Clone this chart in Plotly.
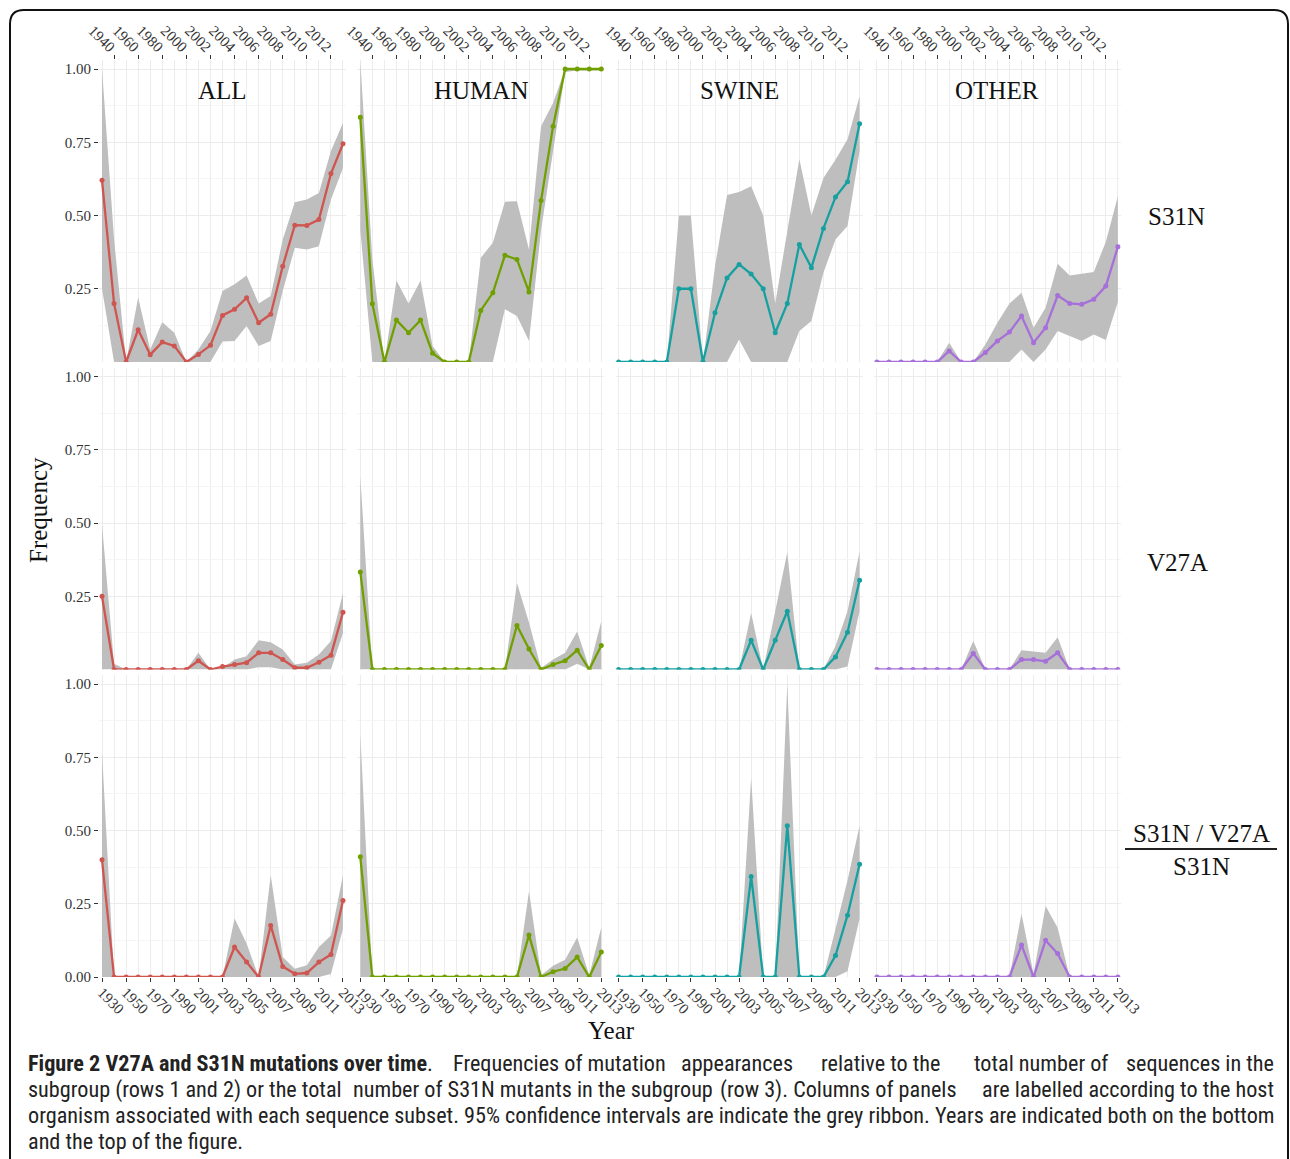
import plotly.graph_objects as go

# ---------------- data ----------------
YEARS = [1930, 1940, 1950, 1960, 1970, 1980, 1990, 2000, 2001, 2002, 2003, 2004,
         2005, 2006, 2007, 2008, 2009, 2010, 2011, 2012, 2013]
HOSTS = ["ALL", "HUMAN", "SWINE", "OTHER"]
HOST_COLORS = ["#cf5550", "#70a000", "#17a0a0", "#a66fd9"]

# Row 1: S31N frequency
S31N_ALL = [0.62, 0.20, 0, 0.11, 0.025, 0.068, 0.055, 0, 0.026, 0.057, 0.159, 0.18, 0.219, 0.134, 0.163, 0.327, 0.467, 0.466, 0.486, 0.643, 0.745]
S31N_ALL_LO = [0.25, 0, 0, 0, 0, 0, 0, 0, 0, 0, 0.07, 0.072, 0.123, 0.055, 0.072, 0.242, 0.39, 0.384, 0.395, 0.555, 0.662]
S31N_ALL_HI = [1.0, 0.42, 0.0, 0.22, 0.043, 0.136, 0.10, 0.0, 0.043, 0.106, 0.242, 0.265, 0.295, 0.2, 0.225, 0.418, 0.545, 0.555, 0.577, 0.72, 0.816]

S31N_HUMAN = [0.835, 0.199, 0, 0.143, 0.10, 0.143, 0.03, 0, 0, 0, 0.176, 0.236, 0.364, 0.35, 0.239, 0.551, 0.805, 1, 1, 1, 1]
S31N_HUMAN_LO = [0.45, 0, 0, 0, 0, 0, 0, 0, 0, 0, 0, 0, 0.18, 0.157, 0.072, 0.45, 0.72, 0.99, 0.995, 0.995, 0.995]
S31N_HUMAN_HI = [1.03, 0.35, 0, 0.278, 0.2, 0.278, 0.055, 0, 0, 0, 0.356, 0.407, 0.547, 0.549, 0.384, 0.805, 0.884, 1, 1, 1, 1]

S31N_SWINE = [0, 0, 0, 0, 0, 0.25, 0.25, 0, 0.168, 0.287, 0.333, 0.30, 0.25, 0.10, 0.20, 0.401, 0.322, 0.456, 0.563, 0.615, 0.813]
S31N_SWINE_LO = [0, 0, 0, 0, 0, 0, 0, 0, 0, 0, 0.077, 0, 0, 0, 0, 0.106, 0.14, 0.305, 0.418, 0.464, 0.72]
S31N_SWINE_HI = [0, 0, 0, 0, 0, 0.5, 0.5, 0, 0.327, 0.57, 0.58, 0.6, 0.5, 0.2, 0.45, 0.693, 0.5, 0.628, 0.69, 0.76, 0.907]

S31N_OTHER = [0, 0, 0, 0, 0, 0, 0.0375, 0, 0, 0.032, 0.072, 0.102, 0.157, 0.066, 0.117, 0.227, 0.2, 0.197, 0.214, 0.259, 0.393]
S31N_OTHER_LO = [0, 0, 0, 0, 0, 0, 0, 0, 0, 0, 0, 0, 0.043, 0, 0.043, 0.106, 0.089, 0.072, 0.094, 0.075, 0.205]
S31N_OTHER_HI = [0, 0, 0, 0, 0, 0, 0.066, 0, 0, 0.06, 0.134, 0.2, 0.236, 0.117, 0.185, 0.335, 0.295, 0.3, 0.307, 0.41, 0.566]

# Row 2: V27A frequency
V27A_ALL = [0.25, 0, 0, 0, 0, 0, 0, 0, 0.03, 0, 0.01, 0.017, 0.023, 0.057, 0.057, 0.034, 0.006, 0.006, 0.025, 0.049, 0.195]
V27A_ALL_LO = [0, 0, 0, 0, 0, 0, 0, 0, 0, 0, 0, 0, 0, 0.008, 0.008, 0, 0, 0, 0, 0, 0.125]
V27A_ALL_HI = [0.494, 0.02, 0, 0, 0, 0, 0, 0, 0.057, 0, 0.005, 0.034, 0.045, 0.1, 0.093, 0.068, 0.017, 0.023, 0.051, 0.097, 0.26]

V27A_HUMAN = [0.333, 0, 0, 0, 0, 0, 0, 0, 0, 0, 0, 0, 0, 0.15, 0.07, 0, 0.017, 0.03, 0.066, 0, 0.082]
V27A_HUMAN_LO = [0, 0, 0, 0, 0, 0, 0, 0, 0, 0, 0, 0, 0, 0, 0, 0, 0, 0, 0.02, 0, 0]
V27A_HUMAN_HI = [0.66, 0, 0, 0, 0, 0, 0, 0, 0, 0, 0, 0, 0, 0.295, 0.16, 0.005, 0.034, 0.057, 0.13, 0.005, 0.165]

V27A_SWINE = [0, 0, 0, 0, 0, 0, 0, 0, 0, 0, 0, 0.1, 0, 0.1, 0.199, 0, 0, 0, 0.043, 0.127, 0.305]
V27A_SWINE_LO = [0, 0, 0, 0, 0, 0, 0, 0, 0, 0, 0, 0, 0, 0, 0, 0, 0, 0, 0, 0.01, 0.2]
V27A_SWINE_HI = [0, 0, 0, 0, 0, 0, 0, 0, 0, 0, 0, 0.193, 0, 0.2, 0.4, 0, 0, 0, 0.08, 0.2, 0.403]

V27A_OTHER = [0, 0, 0, 0, 0, 0, 0, 0, 0.055, 0, 0, 0, 0.034, 0.034, 0.028, 0.057, 0, 0, 0, 0, 0]
V27A_OTHER_LO = [0] * 21
V27A_OTHER_HI = [0, 0, 0, 0, 0, 0, 0, 0, 0.097, 0, 0, 0, 0.066, 0.0625, 0.057, 0.11, 0, 0, 0, 0, 0]

# Row 3: (S31N / V27A) / S31N
DUAL_ALL = [0.4, 0, 0, 0, 0, 0, 0, 0, 0, 0, 0, 0.102, 0.051, 0, 0.176, 0.036, 0.011, 0.0136, 0.051, 0.077, 0.261]
DUAL_ALL_LO = [0, 0, 0, 0, 0, 0, 0, 0, 0, 0, 0, 0, 0, 0, 0, 0, 0, 0, 0, 0.01, 0.165]
DUAL_ALL_HI = [0.767, 0, 0, 0, 0, 0, 0, 0, 0, 0, 0, 0.2, 0.114, 0.0, 0.347, 0.068, 0.028, 0.04, 0.102, 0.142, 0.347]

DUAL_HUMAN = [0.41, 0, 0, 0, 0, 0, 0, 0, 0, 0, 0, 0, 0, 0, 0.143, 0, 0.018, 0.029, 0.068, 0, 0.085]
DUAL_HUMAN_LO = [0] * 21
DUAL_HUMAN_HI = [0.83, 0, 0, 0, 0, 0, 0, 0, 0, 0, 0, 0, 0, 0, 0.293, 0.006, 0.038, 0.059, 0.135, 0.006, 0.17]

DUAL_SWINE = [0, 0, 0, 0, 0, 0, 0, 0, 0, 0, 0, 0.343, 0, 0, 0.516, 0, 0, 0, 0.073, 0.211, 0.385]
DUAL_SWINE_LO = [0, 0, 0, 0, 0, 0, 0, 0, 0, 0, 0, 0, 0, 0, 0, 0, 0, 0, 0, 0.02, 0.2]
DUAL_SWINE_HI = [0, 0, 0, 0, 0, 0, 0, 0, 0, 0, 0, 0.68, 0, 0, 1.0, 0, 0, 0, 0.164, 0.33, 0.516]

DUAL_OTHER = [0, 0, 0, 0, 0, 0, 0, 0, 0, 0, 0, 0, 0.109, 0, 0.125, 0.08, 0, 0, 0, 0, 0]
DUAL_OTHER_LO = [0] * 21
DUAL_OTHER_HI = [0, 0, 0, 0, 0, 0, 0, 0, 0, 0, 0, 0, 0.216, 0.01, 0.242, 0.168, 0, 0, 0, 0, 0]

ROWS = [
    [(S31N_ALL, S31N_ALL_LO, S31N_ALL_HI), (S31N_HUMAN, S31N_HUMAN_LO, S31N_HUMAN_HI),
     (S31N_SWINE, S31N_SWINE_LO, S31N_SWINE_HI), (S31N_OTHER, S31N_OTHER_LO, S31N_OTHER_HI)],
    [(V27A_ALL, V27A_ALL_LO, V27A_ALL_HI), (V27A_HUMAN, V27A_HUMAN_LO, V27A_HUMAN_HI),
     (V27A_SWINE, V27A_SWINE_LO, V27A_SWINE_HI), (V27A_OTHER, V27A_OTHER_LO, V27A_OTHER_HI)],
    [(DUAL_ALL, DUAL_ALL_LO, DUAL_ALL_HI), (DUAL_HUMAN, DUAL_HUMAN_LO, DUAL_HUMAN_HI),
     (DUAL_SWINE, DUAL_SWINE_LO, DUAL_SWINE_HI), (DUAL_OTHER, DUAL_OTHER_LO, DUAL_OTHER_HI)],
]

CAPTION_BOLD = "Figure 2 V27A and S31N mutations over time"
CAPTION_LINES = [
    "Figure 2 V27A and S31N mutations over time. Frequencies of mutation appearances relative to the total number of sequences in the",
    "subgroup (rows 1 and 2) or the total number of S31N mutants in the subgroup (row 3). Columns of panels are labelled according to the host",
    "organism associated with each sequence subset. 95% confidence intervals are indicate the grey ribbon. Years are indicated both on the bottom",
    "and the top of the figure.",
]
CAPTION_CHUNKS = [6, 4, 1, 1]   # pieces per line used to imitate justified text

# ---------------- layout helpers ----------------
W, H = 1290, 1159
SERIF = "Liberation Serif, Times New Roman, serif"
IDX = list(range(len(YEARS)))


def px_x(p):
    return p / W


def px_y(p):
    return 1 - p / H


fig = go.Figure()
layout = dict(
    width=W, height=H, margin=dict(l=0, r=0, t=0, b=0, autoexpand=False),
    paper_bgcolor="white", plot_bgcolor="white", showlegend=False,
    font=dict(family=SERIF, color="#222"),
)

X0 = 102.0
COL_STEP = 258.3
ZERO0 = 362.0
ROW_STEP = 307.5
UNIT = 293.0
YTOP = 1.03

annotations = []
shapes = []

for r in range(3):
    for c in range(4):
        k = r * 4 + c + 1
        xa = "x" if k == 1 else f"x{k}"
        ya = "y" if k == 1 else f"y{k}"
        p0 = X0 + COL_STEP * c
        z = ZERO0 + ROW_STEP * r

        xaxis = dict(
            domain=[px_x(p0 - 3), px_x(p0 + 244)], range=[-0.25, 20.25],
            anchor=ya, zeroline=False, showline=False, automargin=False,
            showgrid=True, gridcolor="#ececec", gridwidth=1,
            minor=dict(tickmode="linear", tick0=0, dtick=1, showgrid=True,
                       gridcolor="#ececec", ticks=""),
            tickfont=dict(family=SERIF, size=15, color="#333"),
            tickangle=45, ticks="outside", ticklen=4, tickcolor="#333",
        )
        if r == 0:
            tv = [i for i in IDX if i % 2 == 1]
            xaxis.update(side="top", tickmode="array", tickvals=tv,
                         ticktext=[str(YEARS[i]) for i in tv], showticklabels=True,
                         ticklabelstandoff=-6)
        elif r == 2:
            tv = [i for i in IDX if i % 2 == 0]
            xaxis.update(side="bottom", tickmode="array", tickvals=tv,
                         ticktext=[str(YEARS[i]) for i in tv], showticklabels=True,
                         ticklabelstandoff=-4)
        else:
            xaxis.update(tickmode="array", tickvals=[i for i in IDX if i % 2 == 0],
                         showticklabels=False, ticks="")

        yt = [0.25, 0.5, 0.75, 1.0] if r < 2 else [0.0, 0.25, 0.5, 0.75, 1.0]
        yaxis = dict(
            domain=[px_y(z), px_y(z - YTOP * UNIT)], range=[0, YTOP],
            anchor=xa, zeroline=False, showline=False, automargin=False,
            showgrid=True, gridcolor="#ececec",
            minor=dict(tickmode="linear", tick0=0, dtick=0.125, showgrid=True,
                       gridcolor="#f5f5f5", ticks=""),
            tickmode="array", tickvals=yt, ticktext=[f"{v:.2f}" for v in yt],
            tickfont=dict(family=SERIF, size=15, color="#333"),
        )
        if c == 0:
            yaxis.update(showticklabels=True, ticks="outside", ticklen=4, tickcolor="#333")
        else:
            yaxis.update(showticklabels=False, ticks="")

        layout["xaxis" if k == 1 else f"xaxis{k}"] = xaxis
        layout["yaxis" if k == 1 else f"yaxis{k}"] = yaxis

        val, lo, hi = ROWS[r][c]
        fig.add_trace(go.Scatter(
            x=IDX + IDX[::-1], y=list(hi) + list(lo)[::-1],
            fill="toself", fillcolor="#bebebe", mode="lines",
            line=dict(width=0, color="#bebebe"), hoverinfo="skip",
            xaxis=xa, yaxis=ya))
        fig.add_trace(go.Scatter(
            x=IDX, y=val, mode="lines+markers",
            line=dict(color=HOST_COLORS[c], width=2.3),
            marker=dict(color=HOST_COLORS[c], size=5),
            xaxis=xa, yaxis=ya))

        if r == 0:
            annotations.append(dict(
                x=px_x(p0 + 120.5), y=px_y(90), xref="paper", yref="paper",
                text=HOSTS[c], showarrow=False, xanchor="center", yanchor="middle",
                font=dict(family=SERIF, size=25, color="#111")))


def label(x, y, text, angle=0):
    annotations.append(dict(x=px_x(x), y=px_y(y), xref="paper", yref="paper",
                            text=text, showarrow=False, textangle=angle,
                            xanchor="center", yanchor="middle",
                            font=dict(family=SERIF, size=25, color="#111")))


# row strip labels
label(1176, 217, "S31N")
label(1177, 562, "V27A")
label(1201, 833, "S31N / V27A")
label(1201, 866, "S31N")
shapes.append(dict(type="line", xref="paper", yref="paper",
                   x0=px_x(1125), x1=px_x(1277), y0=px_y(849), y1=px_y(849),
                   line=dict(color="#222", width=2)))

# axis titles
label(38, 510, "Frequency", angle=-90)
label(611, 1030, "Year")

# caption (justified lines imitated with several pieces per line)
CAP_FONT = "Roboto Condensed, Liberation Sans Narrow, sans-serif"
CAP_SIZE = 22.2
CHAR_W = 0.395 * CAP_SIZE
BOLD_W = 0.423 * CAP_SIZE
LEFT, RIGHT = 26, 1276


def fmt(chunk):
    if CAPTION_BOLD in chunk:
        return chunk.replace(CAPTION_BOLD, "<b>" + CAPTION_BOLD + "</b>")
    return chunk


def est_width(chunk):
    nb = len(CAPTION_BOLD) if CAPTION_BOLD in chunk else 0
    return nb * BOLD_W + (len(chunk) - nb) * CHAR_W


def add_cap(x, y, text, anchor):
    annotations.append(dict(x=px_x(x), y=px_y(y), xref="paper", yref="paper",
                            text=fmt(text), showarrow=False, xanchor=anchor,
                            yanchor="middle",
                            font=dict(family=CAP_FONT, size=CAP_SIZE, color="#222")))


for i, line in enumerate(CAPTION_LINES):
    y = 1063 + 26 * i
    nchunk = CAPTION_CHUNKS[i]
    if nchunk == 1:
        add_cap(LEFT, y, line, "left")
        continue
    if i == 0:
        head = CAPTION_BOLD + "."
        rest = line[len(head):].strip().split(" ")
        parts = [head]
        m = nchunk - 1
        tot = sum(len(wd) + 1 for wd in rest)
        acc, cur = 0, []
        for wd in rest:
            cur.append(wd)
            acc += len(wd) + 1
            if acc >= tot * len(parts) / m and len(parts) < nchunk - 1:
                parts.append(" ".join(cur))
                cur = []
        parts.append(" ".join(cur))
        chunks = [p for p in parts if p]
    else:
        words = line.split(" ")
        tot = len(line)
        chunks, acc, cur = [], 0, []
        for wd in words:
            cur.append(wd)
            acc += len(wd) + 1
            if acc >= tot * (len(chunks) + 1) / nchunk and len(chunks) < nchunk - 1:
                chunks.append(" ".join(cur))
                cur = []
        chunks.append(" ".join(cur))
        chunks = [p for p in chunks if p]
    widths = [est_width(ch) for ch in chunks]
    gap = (RIGHT - LEFT - sum(widths)) / (len(chunks) - 1)
    xpos = LEFT
    for j, (ch, wdt) in enumerate(zip(chunks, widths)):
        if j == 0:
            add_cap(LEFT, y, ch, "left")
        elif j == len(chunks) - 1:
            add_cap(RIGHT, y, ch, "right")
        else:
            add_cap(xpos + wdt / 2, y, ch, "center")
        xpos += wdt + gap


# rounded frame
def P(x, y):
    return f"{x / W:.5f},{1 - y / H:.5f}"


frame = (f"M {P(10, 1175)} L {P(10, 24)} Q {P(10, 10)} {P(24, 10)} "
         f"L {P(1274, 10)} Q {P(1288, 10)} {P(1288, 24)} L {P(1288, 1175)}")
shapes.append(dict(type="path", xref="paper", yref="paper", path=frame,
                   line=dict(color="#111", width=2)))

layout["annotations"] = annotations
layout["shapes"] = shapes
fig.update_layout(**layout)
fig.write_html("out.html", config={"displayModeBar": False},
               post_script="document.body.style.margin='0px';document.body.style.overflow='hidden';")
